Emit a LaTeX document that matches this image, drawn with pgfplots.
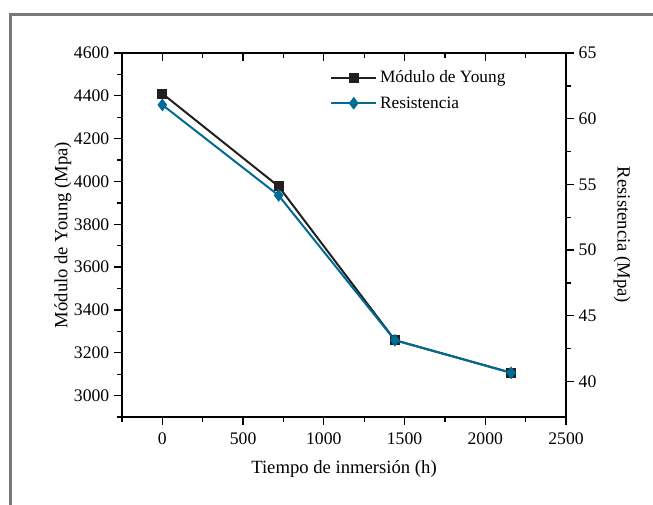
\documentclass[border=0pt]{standalone}
\usepackage{fontspec}
\setmainfont{Liberation Serif}
\usepackage{pgfplots}
\pgfplotsset{compat=1.18}

\definecolor{youngblk}{RGB}{35,31,32}
\definecolor{resblue}{RGB}{0,108,148}
\definecolor{framegray}{RGB}{120,120,120}

\newcommand{\tickfont}{\fontsize{13.25}{15}\selectfont}
\newcommand{\labfont}{\fontsize{14}{16}\selectfont}

\pgfplotsset{
  common/.style={
    at={(91.5pt,66pt)}, anchor=south west,
    scale only axis, width=333pt, height=273pt,
    xmin=-250, xmax=2500,
    axis line style={-, line width=1.1pt, black},
    every tick/.style={black, line width=1.0pt},
    major tick length=6pt, minor tick length=3.5pt,
    /pgf/number format/assume math mode=true,
    /pgf/number format/1000 sep={},
    tick label style={font=\tickfont},
    label style={font=\labfont},
  },
}

\begin{document}
\begin{tikzpicture}
% page frame
\useasboundingbox (0,0) rectangle (489.75pt,378.75pt);
\begin{scope}
  \clip (0,0) rectangle (489.75pt,378.75pt);
  \draw[framegray, line width=2.4pt] (7.9pt,-10pt) -- (7.9pt,368pt) -- (500pt,368pt);
\end{scope}

% left axis: Young's modulus
\begin{axis}[common,
  ymin=2900, ymax=4600,
  axis x line*=bottom, axis y line*=left,
  tick align=outside,
  xtick={0,500,...,2500}, minor xtick={-250,250,...,2250},
  ytick={3000,3200,...,4600}, minor ytick={2900,3100,...,4500},
  xticklabel style={yshift=-2.5pt},
  xlabel={Tiempo de inmersión (h)},
  xlabel style={yshift=-5pt},
  ylabel={Módulo de Young (Mpa)},
  ylabel style={yshift=-5pt},
]
\addplot[youngblk, line width=1.5pt, mark=square*, mark size=3pt]
  coordinates {(0,4410) (720,3977) (1440,3259) (2160,3107)};
\end{axis}

% top ticks pointing inward
\begin{axis}[common,
  ymin=0, ymax=1,
  axis x line*=top, axis y line=none,
  tick align=inside,
  xtick={0,500,...,2500}, minor xtick={-250,250,...,2250},
  xticklabels={},
]
\end{axis}

% right axis: strength
\begin{axis}[common,
  ymin=37.3, ymax=65,
  axis x line=none, axis y line*=right,
  tick align=outside,
  ytick={40,45,...,65}, minor ytick={42.5,47.5,...,62.5},
  ylabel={Resistencia (Mpa)},
  ylabel style={rotate=180, yshift=6pt},
  legend cell align=left,
  legend style={at={(axis description cs:0.468,0.96)}, anchor=north west,
    draw=none, fill=none, inner sep=0pt, row sep=5pt,
    font=\fontsize{13}{15}\selectfont},
  legend image code/.code={
    \draw[mark repeat=2, mark phase=2] plot coordinates {(0pt,0pt) (17pt,0pt) (34pt,0pt)};
  },
]
\addlegendimage{youngblk, line width=1.5pt, mark=square*, mark size=3pt}
\addlegendentry{Módulo de Young}
\addplot[resblue, line width=1.5pt, mark=diamond*, mark size=3.6pt]
  coordinates {(0,61.05) (720,54.16) (1440,43.14) (2160,40.66)};
\addlegendentry{Resistencia}
\end{axis}
\end{tikzpicture}
\end{document}
